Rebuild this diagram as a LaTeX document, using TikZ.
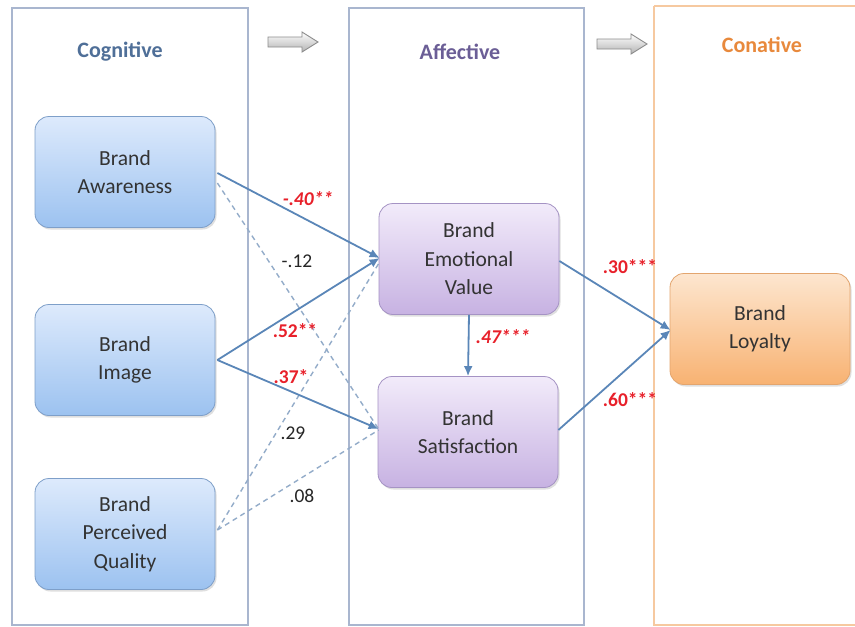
\documentclass[tikz,border=0pt]{standalone}
\usepackage{fontspec}
\setmainfont{Carlito}
\usetikzlibrary{arrows.meta,calc,shadows}
\definecolor{panelblue}{HTML}{A9B6CF}
\definecolor{panelorange}{HTML}{F6C9A0}
\definecolor{cogtitle}{HTML}{4F6F98}
\definecolor{afftitle}{HTML}{6B5E96}
\definecolor{contitle}{HTML}{E8893C}
\definecolor{bluetop}{HTML}{DDEAFC}
\definecolor{bluebot}{HTML}{9CC2F0}
\definecolor{blueedge}{HTML}{7E9FC9}
\definecolor{purtop}{HTML}{F2EBFA}
\definecolor{purbot}{HTML}{C7B2E2}
\definecolor{puredge}{HTML}{A593C4}
\definecolor{ortop}{HTML}{FDE6CF}
\definecolor{orbot}{HTML}{F8B272}
\definecolor{oredge}{HTML}{E3A56E}
\definecolor{linkblue}{HTML}{5A86B8}
\definecolor{dashblue}{HTML}{93ACC9}
\definecolor{sigred}{HTML}{E8202A}
\tikzset{
  panel/.style={draw=panelblue, line width=1.2pt, fill=white},
  boxbase/.style={rounded corners=14pt, minimum width=180pt, minimum height=111pt,
    align=center, font=\fontsize{21.5}{28.5}\selectfont, text=black!80,
    line width=0.8pt, drop shadow={shadow xshift=1.5pt, shadow yshift=-2pt, opacity=0.25}},
  bluebox/.style={boxbase, draw=blueedge, top color=bluetop, bottom color=bluebot},
  purbox/.style={boxbase, draw=puredge, top color=purtop, bottom color=purbot},
  orbox/.style={boxbase, draw=oredge, top color=ortop, bottom color=orbot},
  ptitle/.style={font=\bfseries\fontsize{22}{24}\selectfont},
  solidlink/.style={draw=linkblue, line width=1.8pt, -{Latex[length=10pt,width=9pt]}},
  dashlink/.style={draw=dashblue, line width=1.4pt, dash pattern=on 5pt off 4pt},
  sig/.style={font=\bfseries\fontsize{19.5}{22}\selectfont, text=sigred},
  nsig/.style={font=\fontsize{19.5}{22}\selectfont, text=black!85},
  grayarrow/.style={draw=black!45, line width=0.9pt, top color=white, bottom color=black!30},
}
\begin{document}
\begin{tikzpicture}[x=1pt,y=-1pt]
\useasboundingbox (0,0) rectangle (855,627);
\fill[white] (0,0) rectangle (855,627);
% panels
\draw[panel] (12,8) rectangle (248,625);
\draw[panel] (349,8) rectangle (584,625);
\draw[panel, draw=panelorange] (654,6) -- (860,6) (654,6) -- (654,625) -- (860,625);
% titles
\node[ptitle, text=cogtitle] (tcog) at (120,52) {Cognitive};
\node[ptitle, text=afftitle] (taff) at (460,52) {Affective};
\node[ptitle, text=contitle] (tcon) at (762,45) {Conative};
% gray block arrows
\draw[grayarrow] (268,37) -- (302,37) -- (302,32) -- (318,42) -- (302,52) -- (302,47) -- (268,47) -- cycle;
\draw[grayarrow] (597,39) -- (631,39) -- (631,34) -- (647,44) -- (631,54) -- (631,49) -- (597,49) -- cycle;
% boxes
\node[bluebox] (aw) at (125,172) {Brand\\Awareness};
\node[bluebox] (im) at (125,360) {Brand\\Image};
\node[bluebox] (pq) at (125,534) {Brand\\Perceived\\Quality};
\node[purbox] (ev) at (469,259) {Brand\\Emotional\\Value};
\node[purbox] (sa) at (468,432) {Brand\\Satisfaction};
\node[orbox] (lo) at (760,329) {Brand\\Loyalty};
% dashed links
\draw[dashlink] ($(aw.east)+(2,11)$) -- ($(sa.west)+(1,-3)$);
\draw[dashlink] ($(pq.east)+(2,-4)$) -- ($(ev.west)+(1,3)$);
\draw[dashlink] ($(pq.east)+(2,-4)$) -- ($(sa.west)+(1,-2)$);
% solid links
\draw[solidlink] ($(aw.east)+(2,1)$) -- ($(ev.west)+(1,-1)$);
\draw[solidlink] ($(im.east)+(2,0)$) -- ($(ev.west)+(1,-1)$);
\draw[solidlink] ($(im.east)+(2,0)$) -- ($(sa.west)+(1,-3)$);
\draw[solidlink] (ev.south) -- (sa.north);
\draw[solidlink] ($(ev.east)+(0,2)$) -- ($(lo.west)+(1,1)$);
\draw[solidlink] ($(sa.east)+(0,-2)$) -- ($(lo.west)+(1,1)$);
% labels
\node[sig, font=\bfseries\itshape\fontsize{19.5}{22}\selectfont] (l1) at (308,199) {-.40**};
\node[nsig] (l2) at (297,261) {-.12};
\node[sig] (l3) at (295,331) {.52**};
\node[sig] (l4) at (291,377) {.37*};
\node[nsig] (l5) at (293,433) {.29};
\node[nsig] (l6) at (302,496) {.08};
\node[sig, font=\bfseries\itshape\fontsize{19.5}{22}\selectfont] (l7) at (503,337) {.47***};
\node[sig] (l8) at (630,267) {.30***};
\node[sig] (l9) at (630,400) {.60***};
\end{tikzpicture}
\end{document}
